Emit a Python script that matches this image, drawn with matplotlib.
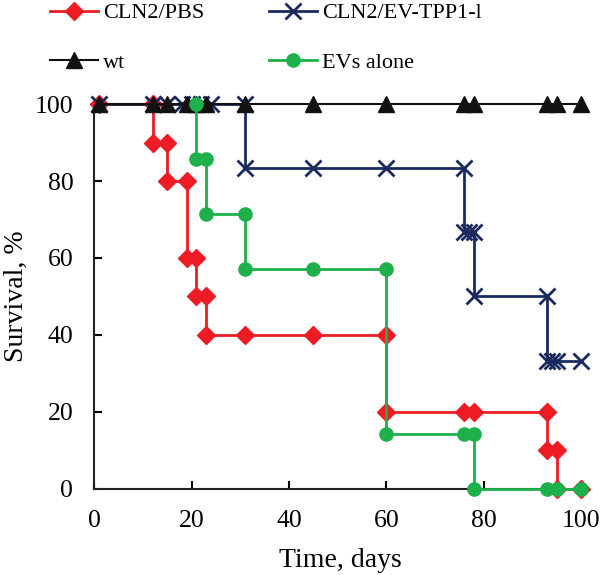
import matplotlib
matplotlib.use("Agg")
import matplotlib.pyplot as plt

# survival curves (time in days, survival in %)
pbs_t = [1, 12, 12, 15, 15, 19, 19, 21, 21, 23, 23, 31, 45, 60, 60, 76, 78, 93, 93, 95, 95, 100]
pbs_s = [100, 100, 90, 90, 80, 80, 60, 60, 50, 50, 40, 40, 40, 40, 20, 20, 20, 20, 10, 10, 0, 0]

tpp_t = [1, 12, 15, 18, 20, 22, 24, 31, 31, 45, 60, 76, 76, 77, 78, 78, 93, 93, 94, 95, 100]
tpp_s = [100, 100, 100, 100, 100, 100, 100, 100, 83.3, 83.3, 83.3, 83.3, 66.7, 66.7, 66.7,
         50, 50, 33.3, 33.3, 33.3, 33.3]

wt_t = [1, 12, 15, 19, 21, 23, 31, 45, 60, 76, 78, 93, 95, 100]
wt_s = [100] * len(wt_t)

ev_t = [21, 21, 23, 23, 31, 31, 45, 60, 60, 76, 78, 78, 93, 95, 100]
ev_s = [100, 85.7, 85.7, 71.4, 71.4, 57.1, 57.1, 57.1, 14.3, 14.3, 14.3, 0, 0, 0, 0]

xticks = [0, 20, 40, 60, 80, 100]
yticks = [0, 20, 40, 60, 80, 100]

plt.rcParams['font.family'] = ['Liberation Serif', 'DejaVu Serif']

fig = plt.figure(figsize=(6, 5.75), dpi=100)
ax = fig.add_axes([0.157, 0.15, 0.82, 0.669])

l_pbs, = ax.plot(pbs_t, pbs_s, color='#ED1C24', lw=2, marker='D', ms=9.5,
                 label='CLN2/PBS', clip_on=False, zorder=3)
l_tpp, = ax.plot(tpp_t, tpp_s, color='#1B2A5E', lw=2, marker='x', ms=11, mew=2,
                 label='CLN2/EV-TPP1-l', clip_on=False, zorder=4)
l_wt, = ax.plot(wt_t, wt_s, color='#111111', lw=1.5, marker='^', ms=12,
                label='wt', clip_on=False, zorder=5)
l_ev, = ax.plot(ev_t, ev_s, color='#1DB04B', lw=2, marker='o', ms=9.5,
                label='EVs alone', clip_on=False, zorder=6)

ax.set_xlim(0, 101)
ax.set_ylim(0, 100)
ax.set_xticks(xticks)
ax.set_yticks(yticks)
ax.spines['top'].set_visible(False)
ax.spines['right'].set_visible(False)
for s in ['left', 'bottom']:
    ax.spines[s].set_linewidth(1.5)
    ax.spines[s].set_color('#222222')
ax.tick_params(direction='in', length=6, width=1.5, labelsize=18.5, pad=15)
ax.set_xlabel('Time, days', fontsize=20, labelpad=12)
ax.set_ylabel('Survival, %', fontsize=20, labelpad=4)

fig.legend([l_pbs, l_wt, l_tpp, l_ev],
           ['CLN2/PBS', 'wt', 'CLN2/EV-TPP1-l', 'EVs alone'],
           ncol=2, frameon=False, fontsize=16, loc='upper left',
           bbox_to_anchor=(0.083, 0.995), borderpad=0, borderaxespad=0,
           handlelength=2.15, columnspacing=2.9, labelspacing=1.3,
           handletextpad=0.25)

fig.savefig('out.png', dpi=100)
